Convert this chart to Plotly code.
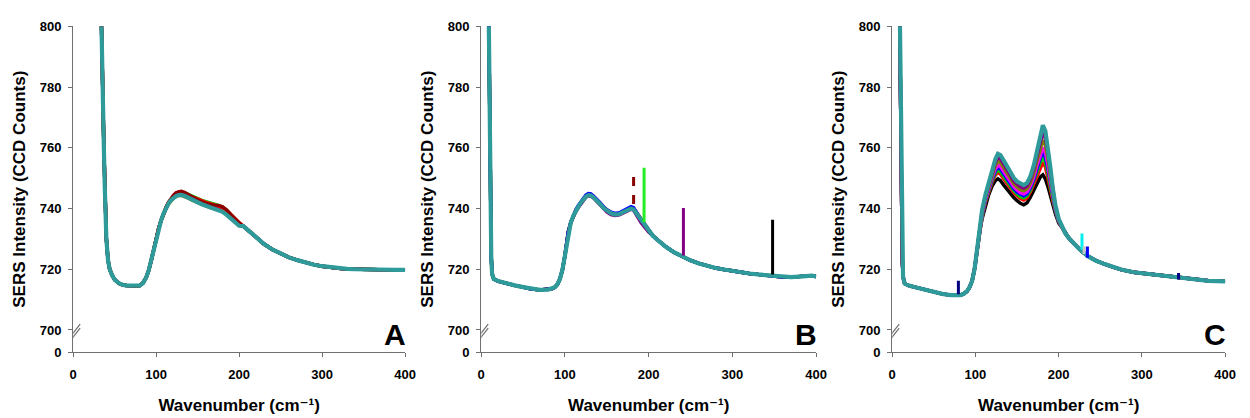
import plotly.graph_objects as go

# ---------------- Panel A ----------------
A_wn_low = [32, 33, 34, 35, 36, 37, 38, 39, 40, 42, 44, 47, 50, 55, 60, 65, 70, 75, 80, 84, 88, 91, 94, 97, 100, 103, 106, 109]
A_low = [830, 812, 798, 786, 774, 760, 748, 738, 730, 723, 720, 718, 716.6, 715.4, 714.8, 714.6, 714.5, 714.4, 714.6, 715.4,
         717.3, 719.6, 722.8, 726.5, 730.2, 733.4, 736.1, 738.4]
A_wn_mid = [112, 115, 118, 121, 124, 127, 130, 134, 138, 142, 146, 150, 155, 160, 165, 170, 175, 180, 185, 190, 195, 200]
A_mid_blue = [740.2, 741.8, 743.0, 743.9, 744.6, 745.0, 745.1, 744.8, 744.2, 743.5, 742.9, 742.4, 741.8, 741.2, 740.7, 740.2, 739.9, 739.7, 738.9, 737.4, 736.0, 734.7]
A_mid_green = [740.3, 741.9, 743.1, 744.0, 744.8, 745.2, 745.4, 745.2, 744.7, 744.1, 743.6, 743.2, 742.7, 742.3, 741.9, 741.4, 741.0, 740.4, 739.4, 738.0, 736.6, 735.2]
A_mid_purple = [740.0, 741.6, 742.9, 743.8, 744.5, 745.0, 745.2, 744.9, 744.3, 743.6, 743.0, 742.5, 741.9, 741.3, 740.8, 740.5, 740.5, 740.2, 739.1, 737.6, 736.2, 734.9]
A_mid_olive = [740.1, 741.5, 742.6, 743.4, 744.0, 744.3, 744.3, 744.0, 743.5, 742.9, 742.4, 741.9, 741.3, 740.8, 740.3, 739.9, 739.6, 739.1, 738.1, 736.9, 735.7, 734.5]
A_mid_red = [740.4, 742.0, 743.2, 744.2, 745.0, 745.5, 745.6, 745.2, 744.6, 744.0, 743.5, 743.0, 742.4, 742.0, 741.6, 741.2, 740.9, 740.4, 739.4, 738.0, 736.7, 735.4]
A_mid_darkred = [740.5, 742.1, 743.4, 744.4, 745.2, 745.6, 745.7, 745.3, 744.6, 743.9, 743.3, 742.8, 742.2, 741.7, 741.3, 741.1, 741.0, 740.6, 739.5, 738.0, 736.6, 735.2]
A_mid_teal = [740.2, 741.7, 742.8, 743.6, 744.1, 744.4, 744.5, 744.2, 743.6, 743.0, 742.5, 742.0, 741.4, 740.9, 740.4, 739.9, 739.5, 738.9, 737.9, 736.7, 735.5, 734.3]
A_wn_high = [205, 210, 215, 220, 230, 240, 250, 260, 270, 280, 290, 300, 310, 320, 330, 340, 350, 360, 370, 380, 390, 400]
A_high = [734.2, 733.0, 731.8, 730.5, 728.3, 726.5, 725.1, 723.9, 723.0, 722.2, 721.5, 721.0, 720.6, 720.3, 720.1, 720.0,
          719.9, 719.9, 719.8, 719.8, 719.8, 719.8]

# ---------------- Panel B ----------------
B_wn_low = [8, 9, 10, 11, 12, 13, 15, 20, 25, 30, 40, 50, 60, 70, 80, 85, 88, 91, 94, 97, 100, 102, 104, 107, 110]
B_low = [830, 800, 775, 742, 724, 718.5, 716.8, 716.1, 715.7, 715.3, 714.7, 714.1, 713.5, 713.2, 713.3, 713.6, 714.1, 715.0,
         716.8, 719.8, 724.5, 728.8, 732.3, 735.4, 737.6]
B_wn_mid = [113, 116, 119, 122, 125, 128, 131, 134, 138, 142, 146, 150, 155, 160, 165, 170, 175, 179, 182, 185, 188, 191, 194, 197, 200]
B_mid_green = [739.3, 740.6, 742.0, 743.1, 744.0, 744.5, 744.4, 743.8, 742.8, 741.6, 740.3, 739.3, 738.5, 738.1, 738.3, 739.0, 739.7, 740.1, 739.8, 738.7, 737.3, 736.0, 734.9, 733.8, 732.7]
B_mid_darkred = [739.4, 740.7, 742.0, 743.2, 744.1, 744.6, 744.6, 744.0, 743.0, 741.8, 740.5, 739.5, 738.6, 738.2, 738.4, 739.1, 739.9, 740.3, 740.1, 738.9, 737.5, 736.1, 734.9, 733.8, 732.7]
B_mid_olive = [739.2, 740.5, 741.8, 743.0, 743.9, 744.5, 744.5, 743.9, 742.9, 741.7, 740.4, 739.4, 738.5, 738.1, 738.3, 739.0, 739.8, 740.2, 739.9, 738.8, 737.4, 736.1, 735.0, 733.9, 732.8]
B_mid_purple = [739.0, 740.3, 741.6, 742.8, 743.7, 744.2, 744.1, 743.5, 742.4, 741.2, 739.9, 738.9, 738.0, 737.7, 737.9, 738.6, 739.4, 739.8, 739.4, 738.2, 736.7, 735.3, 734.2, 733.2, 732.2]
B_mid_blue = [739.6, 741.0, 742.3, 743.5, 744.4, 744.9, 744.8, 744.1, 743.1, 741.9, 740.6, 739.6, 738.8, 738.4, 738.6, 739.3, 740.1, 740.6, 740.3, 739.1, 737.6, 736.2, 735.0, 733.9, 732.8]
B_mid_teal = [739.3, 740.6, 741.9, 743.0, 743.9, 744.4, 744.3, 743.7, 742.7, 741.5, 740.2, 739.2, 738.4, 738.0, 738.2, 738.9, 739.6, 740.0, 739.7, 738.6, 737.2, 735.9, 734.8, 733.7, 732.6]
B_wn_high = [205, 210, 215, 220, 230, 240, 250, 260, 270, 280, 290, 300, 310, 320, 330, 340, 350, 360, 370, 380, 390, 395, 400]
B_high = [731.0, 729.8, 728.6, 727.5, 725.6, 724.1, 722.9, 721.9, 721.1, 720.4, 719.9, 719.4, 719.0, 718.6, 718.3, 718.0,
          717.7, 717.4, 717.4, 717.6, 717.8, 717.9, 717.6]
# single-scan cosmic-ray spikes
B_spike_wn = [182, 194.5, 241.5, 348]
B_spike_lo = [741.5, 735.5, 724.5, 718.3]
B_spike_hi = [752.0, 753.4, 740.2, 736.3]

# ---------------- Panel C ----------------
C_wn_low = [8, 9, 10, 11, 12, 13, 15, 20, 30, 40, 50, 60, 70, 76, 82, 86, 90, 93, 96, 99, 102, 105]
C_low = [830, 800, 772, 744, 724, 717.5, 715.3, 714.6, 713.9, 713.2, 712.5, 711.9, 711.5, 711.4, 711.5, 711.9, 712.8,
         714.1, 716.2, 720.2, 726.5, 732.5]
C_wn_mid = [108, 112, 116, 120, 124, 127, 130, 134, 138, 142, 146, 150, 154, 158, 162, 166, 170, 174, 178, 181, 184, 187, 190, 193, 196, 200]
C_mid_black = [736.6, 741.2, 744.6, 747.4, 749.2, 749.8, 749.2, 747.7, 746.2, 744.9, 743.6, 742.6, 741.7, 741.2, 741.9, 743.7, 745.9, 748.4, 750.4, 751.1, 749.7, 747.2, 744.0, 741.0, 738.3, 735.2]
C_mid_red = [737.3, 742.0, 745.6, 748.7, 751.0, 751.9, 751.3, 749.7, 748.1, 746.6, 745.2, 744.2, 743.3, 742.8, 743.5, 745.4, 748.0, 751.1, 753.9, 755.2, 753.7, 750.5, 746.4, 742.4, 739.0, 735.6]
C_mid_green = [737.6, 742.4, 746.0, 749.2, 751.7, 752.7, 752.1, 750.5, 748.8, 747.3, 745.9, 744.8, 743.9, 743.5, 744.2, 746.1, 748.8, 752.1, 755.3, 756.8, 755.2, 751.9, 747.3, 742.9, 739.3, 735.7]
C_mid_blue = [737.9, 742.7, 746.4, 749.7, 752.4, 753.5, 753.0, 751.3, 749.6, 748.0, 746.5, 745.4, 744.6, 744.1, 744.8, 746.8, 749.6, 753.2, 756.7, 758.4, 756.8, 753.2, 748.3, 743.5, 739.6, 735.8]
C_mid_magenta = [738.2, 743.0, 746.7, 750.2, 753.1, 754.3, 753.8, 752.2, 750.3, 748.6, 747.2, 746.1, 745.2, 744.8, 745.5, 747.5, 750.4, 754.2, 758.0, 760.1, 758.4, 754.5, 749.2, 744.0, 739.9, 736.0]
C_mid_olive = [738.6, 743.5, 747.3, 751.0, 754.2, 755.5, 755.1, 753.4, 751.5, 749.7, 748.2, 747.0, 746.2, 745.8, 746.5, 748.5, 751.6, 755.8, 760.1, 762.5, 760.8, 756.5, 750.7, 744.9, 740.3, 736.2]
C_mid_purple = [739.1, 744.0, 747.9, 751.7, 755.2, 756.8, 756.3, 754.6, 752.6, 750.7, 749.1, 748.0, 747.1, 746.7, 747.4, 749.6, 752.9, 757.4, 762.2, 765.0, 763.1, 758.5, 752.1, 745.7, 740.8, 736.4]
C_mid_teal = [739.5, 744.5, 748.5, 752.5, 756.3, 758.0, 757.6, 755.8, 753.7, 751.7, 750.1, 748.9, 748.1, 747.7, 748.4, 750.6, 754.1, 759.0, 764.3, 767.4, 765.5, 760.5, 753.5, 746.5, 741.2, 736.6]
C_wn_high = [204, 208, 212, 218, 225, 235, 245, 255, 265, 275, 290, 305, 320, 335, 350, 365, 380, 390, 400]
C_high = [733.8, 731.8, 730.3, 728.5, 726.6, 724.3, 722.8, 721.7, 720.7, 719.9, 719.0, 718.5, 718.0, 717.5, 717.0, 716.6,
          716.2, 716.1, 716.0]
C_spike_wn = [79.5, 228, 230.5, 234.5, 344]
C_spike_lo = [711.8, 726.5, 725.0, 723.8, 716.6]
C_spike_hi = [716.2, 731.8, 727.6, 727.5, 718.8]

Y_TICKS = [700, 720, 740, 760, 780, 800]
X_TICKS = [0, 100, 200, 300, 400]
PANEL_LETTERS = ["A", "B", "C"]
X_TITLE = "Wavenumber (cm\u207b\u00b9)"
Y_TITLE = "SERS Intensity (CCD Counts)"

# ---------------- styling ----------------
COL = {
    "teal": "#2e9a9a", "darkred": "#8b0000", "red": "#ff0000", "green": "#00d000",
    "blue": "#0000ff", "magenta": "#ff00ff", "olive": "#808000", "purple": "#800080",
    "black": "#000000", "navy": "#000080", "cyan": "#00f0f0", "gray": "#c8c8c8", "lime": "#22ee22",
}
FONT = "Liberation Sans, Arial, DejaVu Sans, sans-serif"
W, H = 1250, 418
AXIS_ZERO = 692.7          # where the broken axis places its "0"
PLOT_TOP, PLOT_BOTTOM = 20, 358
PANEL_X = [(70, 406), (483, 822), (899, 1236)]

fig = go.Figure()


def add_panel(k, wn_low, low, wn_mid, mids, wn_high, high, spikes=None):
    xa, ya = ("x", "y") if k == 1 else (f"x{k}", f"y{k}")
    for name, mid in mids:
        width = 4.2 if name == "teal" else 3.4
        fig.add_trace(go.Scatter(
            x=wn_low + wn_mid + wn_high, y=low + mid + high, mode="lines",
            line=dict(color=COL[name], width=width), xaxis=xa, yaxis=ya,
            showlegend=False, hoverinfo="skip"))
    if spikes:
        for wn, lo, hi, name, dash in spikes:
            fig.add_trace(go.Scatter(
                x=[wn, wn], y=[lo, hi], mode="lines",
                line=dict(color=COL[name], width=3, dash=dash), xaxis=xa, yaxis=ya,
                showlegend=False, hoverinfo="skip"))


add_panel(1, A_wn_low, A_low, A_wn_mid,
          [("blue", A_mid_blue), ("green", A_mid_green), ("purple", A_mid_purple), ("olive", A_mid_olive),
           ("red", A_mid_red), ("darkred", A_mid_darkred), ("teal", A_mid_teal)],
          A_wn_high, A_high)

B_spike_styles = [("darkred", "dash"), ("lime", "solid"), ("purple", "solid"), ("black", "solid")]
add_panel(2, B_wn_low, B_low, B_wn_mid,
          [("green", B_mid_green), ("darkred", B_mid_darkred), ("olive", B_mid_olive),
           ("purple", B_mid_purple), ("blue", B_mid_blue), ("teal", B_mid_teal)],
          B_wn_high, B_high,
          [(w, lo, hi, s[0], s[1]) for w, lo, hi, s in zip(B_spike_wn, B_spike_lo, B_spike_hi, B_spike_styles)])

C_spike_styles = [("navy", "solid"), ("cyan", "solid"), ("gray", "solid"), ("blue", "solid"), ("navy", "solid")]
add_panel(3, C_wn_low, C_low, C_wn_mid,
          [("black", C_mid_black), ("red", C_mid_red), ("green", C_mid_green), ("blue", C_mid_blue),
           ("magenta", C_mid_magenta), ("olive", C_mid_olive), ("purple", C_mid_purple), ("teal", C_mid_teal)],
          C_wn_high, C_high,
          [(w, lo, hi, s[0], s[1]) for w, lo, hi, s in zip(C_spike_wn, C_spike_lo, C_spike_hi, C_spike_styles)])

tick_font = dict(family=FONT, size=13, color="#000000", weight="bold")
title_font = dict(family=FONT, size=17, color="#000000", weight="bold")
axis_col = "#707070"
y_dom = [(H - PLOT_BOTTOM) / H, (H - PLOT_TOP) / H]

layout = dict(width=W, height=H, margin=dict(l=0, r=0, t=0, b=0),
              paper_bgcolor="white", plot_bgcolor="white", showlegend=False)
annotations, shapes = [], []
for k, (x0, x1) in enumerate(PANEL_X, start=1):
    sx = "" if k == 1 else str(k)
    layout[f"xaxis{sx}"] = dict(
        domain=[x0 / W, x1 / W], anchor=f"y{sx}", range=[0, 400], tickvals=X_TICKS,
        showline=True, linecolor=axis_col, linewidth=1.3, ticks="outside", ticklen=4,
        tickcolor=axis_col, tickwidth=1.3, showgrid=False, zeroline=False,
        tickfont=tick_font, ticklabelstandoff=6,
        title=dict(text=X_TITLE, font=title_font, standoff=18))
    layout[f"yaxis{sx}"] = dict(
        domain=y_dom, anchor=f"x{sx}", range=[AXIS_ZERO, 800],
        tickvals=[AXIS_ZERO] + Y_TICKS, ticktext=["0"] + [str(v) for v in Y_TICKS],
        showline=True, linecolor=axis_col, linewidth=1.3, ticks="outside", ticklen=4,
        tickcolor=axis_col, tickwidth=1.3, showgrid=False, zeroline=False,
        tickfont=tick_font, ticklabelstandoff=4,
        title=dict(text=Y_TITLE, font=title_font, standoff=9))
    annotations.append(dict(
        text=PANEL_LETTERS[k - 1], xref="paper", yref="paper", x=(x1 + 3) / W, y=(H - 340) / H,
        xanchor="right", yanchor="middle", showarrow=False,
        font=dict(family=FONT, size=30, color="#000000", weight="bold")))
    # axis-break marks on the value axis
    brk = dict(xref=f"x{sx}", yref=f"y{sx}", xsizemode="pixel", ysizemode="pixel",
               xanchor=0, yanchor=699.0, layer="above")
    shapes.append(dict(type="path", path="M-7,-9 L7,9 L7,5 L-7,-13 Z",
                       fillcolor="white", line=dict(width=0), **brk))
    shapes.append(dict(type="line", x0=-7, y0=-9, x1=7, y1=9,
                       line=dict(color=axis_col, width=1.2), **brk))
    shapes.append(dict(type="line", x0=-7, y0=-13, x1=7, y1=5,
                       line=dict(color=axis_col, width=1.2), **brk))

layout["annotations"] = annotations
layout["shapes"] = shapes
fig.update_layout(**layout)
fig.write_html("out.html")
